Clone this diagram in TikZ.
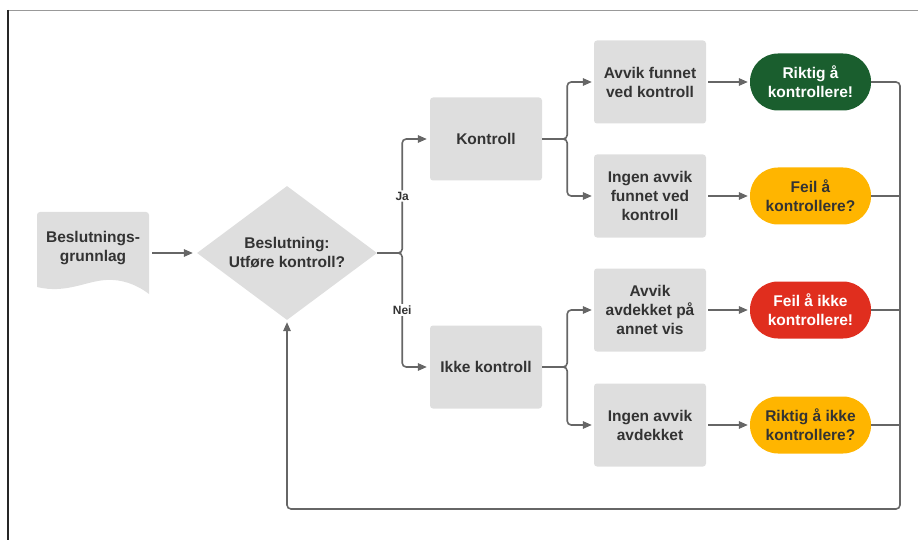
\documentclass[tikz,border=0pt]{standalone}
\usepackage{fontspec}
\setmainfont{Liberation Sans}
\usetikzlibrary{shapes.geometric,arrows.meta}
\definecolor{boxgray}{HTML}{DEDEDE}
\definecolor{txtgray}{HTML}{333333}
\definecolor{linegray}{HTML}{666666}
\definecolor{pgreen}{RGB}{26,94,46}
\definecolor{pyellow}{HTML}{FFB500}
\definecolor{pred}{RGB}{224,46,30}
\begin{document}
\begin{tikzpicture}[x=1pt,y=-1pt,
  txt/.style={font=\bfseries\fontsize{15.5}{19}\selectfont, text=txtgray, align=center},
  procbox/.style={txt, rectangle, rounded corners=3pt, fill=boxgray, minimum width=112pt, minimum height=83pt, inner sep=0pt},
  pill/.style={txt, rectangle, rounded corners=28pt, minimum width=121pt, minimum height=57pt, inner sep=0pt},
  conn/.style={draw=linegray, line width=1.6pt},
  arr/.style={conn, -{Triangle[length=9pt,width=7.5pt]}},
  lbl/.style={font=\bfseries\fontsize{12}{14}\selectfont, text=txtgray, fill=white, inner sep=1.5pt}
]
\useasboundingbox (0,0) rectangle (918,540);
% frame edges of the screenshot
\draw[line width=1.5pt, color=black!40] (8,10.5) -- (918,10.5);
\draw[line width=1.2pt, color=black!85] (8,10) -- (8,540);

% document shape
\fill[boxgray] (37,287) [rounded corners=3pt] -- (37,212) -- (149,212) [sharp corners] -- (149,294)
  .. controls (136,284) and (121,279) .. (106,280)
  .. controls (86,281) and (66,294) .. (37,287) -- cycle;
\node[txt, minimum width=112pt, inner sep=0pt] (doc) at (93,248) {Beslutnings-\\grunnlag};

% decision
\node[txt, diamond, aspect=1.343, fill=boxgray, minimum width=180pt, minimum height=134pt, inner sep=0pt] (dia) at (287,253) {Beslutning:\\Utføre kontroll?};

% level 2
\node[procbox] (k) at (486,139) {Kontroll};
\node[procbox] (ik) at (486,367) {Ikke kontroll};

% level 3
\node[procbox] (a1) at (650,82) {Avvik funnet\\ved kontroll};
\node[procbox] (a2) at (650,196) {Ingen avvik\\funnet ved\\kontroll};
\node[procbox] (a3) at (650,310) {Avvik\\avdekket på\\annet vis};
\node[procbox] (a4) at (650,425) {Ingen avvik\\avdekket};

% outcomes
\node[pill, fill=pgreen, text=white] (p1) at (810.5,82) {Riktig å\\kontrollere!};
\node[pill, fill=pyellow] (p2) at (810.5,196) {Feil å\\kontrollere?};
\node[pill, fill=pred, text=white] (p3) at (810.5,310) {Feil å ikke\\kontrollere!};
\node[pill, fill=pyellow] (p4) at (810.5,425) {Riktig å ikke\\kontrollere?};

\coordinate (rc) at (900,509);

% connectors
\draw[arr, shorten <=3pt, shorten >=4pt] (doc.east |- dia.west) -- (dia.west);
\draw[arr, rounded corners=4pt, shorten >=3pt] (dia.east) -- ++(25,0) |- node[lbl, pos=0.25] {Ja} (k.west);
\draw[arr, rounded corners=4pt, shorten >=3pt] (dia.east) -- ++(25,0) |- node[lbl, pos=0.25] {Nei} (ik.west);
\draw[arr, rounded corners=4pt, shorten >=2pt] (k.east) -- ++(25,0) |- (a1.west);
\draw[arr, rounded corners=4pt, shorten >=2pt] (k.east) -- ++(25,0) |- (a2.west);
\draw[arr, rounded corners=4pt, shorten >=2pt] (ik.east) -- ++(25,0) |- (a3.west);
\draw[arr, rounded corners=4pt, shorten >=2pt] (ik.east) -- ++(25,0) |- (a4.west);
\draw[arr, shorten <=2pt, shorten >=2pt] (a1.east) -- (p1.west);
\draw[arr, shorten <=2pt, shorten >=2pt] (a2.east) -- (p2.west);
\draw[arr, shorten <=2pt, shorten >=2pt] (a3.east) -- (p3.west);
\draw[arr, shorten <=2pt, shorten >=2pt] (a4.east) -- (p4.west);
\draw[arr, rounded corners=4pt, shorten >=2pt] (p1.east) -| (rc) -| (dia.south);
\draw[conn] (p2.east) -- (rc |- p2.east);
\draw[conn] (p3.east) -- (rc |- p3.east);
\draw[conn] (p4.east) -- (rc |- p4.east);
\end{tikzpicture}
\end{document}
